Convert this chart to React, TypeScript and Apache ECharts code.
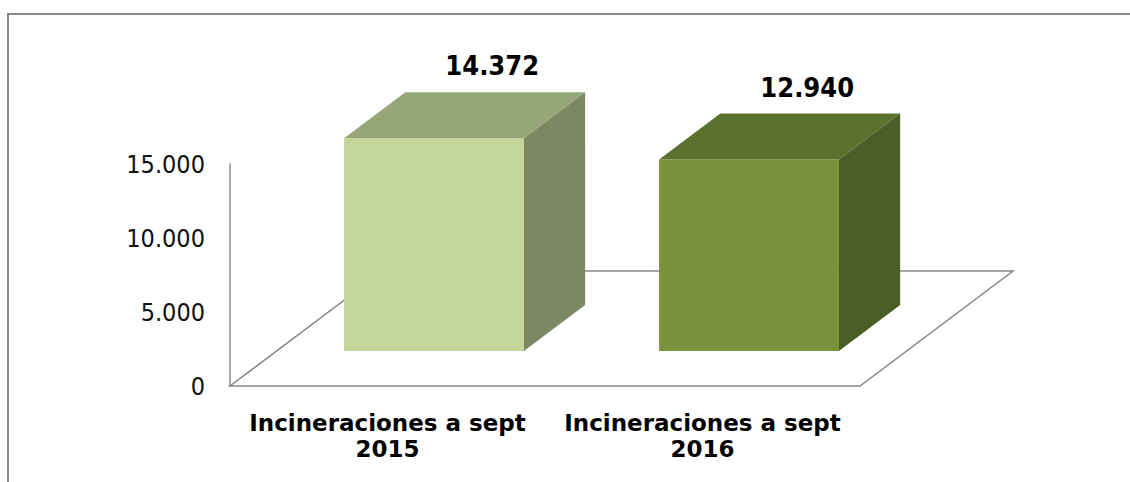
import React, { useEffect, useRef } from "react";
import * as echarts from "echarts";

const categories = ["Incineraciones a sept\n2015", "Incineraciones a sept\n2016"];
const values = [14372, 12940];
const yMin = 0;
const yMax = 15000;
const yInterval = 5000;

const frontColors = ["#C4D69B", "#789339"];
const topColors = ["#96A677", "#5B722F"];
const sideColors = ["#7C8862", "#4B5E27"];

// 3D projection of the floor depth (pixels)
const DX = 153;
const DY = -115;
const F0 = 0.304; // bar front depth fraction
const F1 = 0.704; // bar back depth fraction
const BAR_FRAC = 0.571;

const fmt = (v: number) => String(v).replace(/\B(?=(\d{3})+(?!\d))/g, ".");

export default function App() {
  const ref = useRef<HTMLDivElement>(null);
  useEffect(() => {
    if (!ref.current) return;
    const chart = echarts.init(ref.current, undefined, { renderer: "svg" });
    const option: any = {
      animation: false,
      backgroundColor: "#ffffff",
      grid: { left: 230, right: 270, top: 164, bottom: 96, containLabel: false },
      graphic: [
        {
          type: "rect",
          z: -10,
          shape: { x: 8, y: 14, width: 1300, height: 700 },
          style: { fill: "none", stroke: "#878787", lineWidth: 2 },
        },
      ],
      xAxis: {
        type: "category",
        data: categories,
        axisLine: { show: false },
        axisTick: { show: false },
        axisLabel: {
          margin: 24,
          color: "#000",
          fontFamily: "DejaVu Sans",
          fontWeight: "bold",
          fontSize: 23,
          lineHeight: 26,
          interval: 0,
        },
      },
      yAxis: {
        type: "value",
        min: yMin,
        max: yMax,
        interval: yInterval,
        axisLine: { show: true, lineStyle: { color: "#888888", width: 1.5 } },
        axisTick: { show: false },
        splitLine: { show: false },
        axisLabel: {
          margin: 25,
          color: "#111",
          fontFamily: "DejaVu Sans Condensed",
          fontSize: 25,
          formatter: (v: number) => fmt(v),
        },
      },
      series: [
        {
          type: "custom",
          z: 1,
          silent: true,
          data: [[0, 0]],
          encode: { x: 0, y: 1 },
          renderItem: (params: any) => {
            const cs = params.coordSys;
            const x = cs.x, w = cs.width, yb = cs.y + cs.height;
            return {
              type: "polygon",
              shape: {
                points: [
                  [x, yb],
                  [x + w, yb],
                  [x + w + DX, yb + DY],
                  [x + DX, yb + DY],
                ],
              },
              style: { fill: "none", stroke: "#888888", lineWidth: 1.5 },
            };
          },
        },
        {
          type: "custom",
          z: 2,
          data: values.map((v, i) => [i, v]),
          encode: { x: 0, y: 1 },
          renderItem: (params: any, api: any) => {
            const i = api.value(0);
            const v = api.value(1);
            const base = api.coord([i, 0]);
            const top = api.coord([i, v]);
            const band = api.size([1, 0])[0];
            const w = band * BAR_FRAC;
            const fx = DX * F0, fy = DY * F0;
            const bdx = DX * (F1 - F0), bdy = DY * (F1 - F0);
            const x0 = base[0] - w / 2 + fx;
            const x1 = x0 + w;
            const yb = base[1] + fy;
            const yt = top[1] + fy;
            return {
              type: "group",
              children: [
                {
                  type: "rect",
                  shape: { x: x0, y: yt, width: w, height: yb - yt },
                  style: { fill: frontColors[i] },
                },
                {
                  type: "polygon",
                  shape: {
                    points: [
                      [x0, yt],
                      [x1, yt],
                      [x1 + bdx, yt + bdy],
                      [x0 + bdx, yt + bdy],
                    ],
                  },
                  style: { fill: topColors[i] },
                },
                {
                  type: "polygon",
                  shape: {
                    points: [
                      [x1, yt],
                      [x1 + bdx, yt + bdy],
                      [x1 + bdx, yb + bdy],
                      [x1, yb],
                    ],
                  },
                  style: { fill: sideColors[i] },
                },
                {
                  type: "text",
                  style: {
                    x: (x0 + x1) / 2 + bdx - 3,
                    y: yt + bdy - 13,
                    text: fmt(v),
                    fill: "#000",
                    fontFamily: "DejaVu Sans Condensed",
                    fontWeight: "bold",
                    fontSize: 27,
                    textAlign: "center",
                    textVerticalAlign: "bottom",
                  },
                },
              ],
            };
          },
        },
      ],
    };
    chart.setOption(option);
    return () => chart.dispose();
  }, []);
  return (
    <div
      ref={ref}
      style={{ position: "fixed", left: 0, top: 0, width: 1130, height: 482, background: "#fff" }}
    />
  );
}
